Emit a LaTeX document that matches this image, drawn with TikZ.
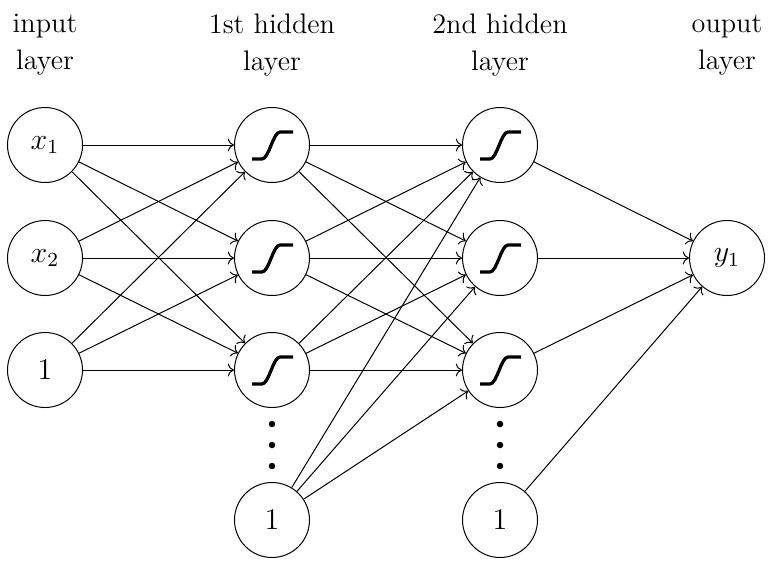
\documentclass[tikz,border=0pt]{standalone}
\usetikzlibrary{arrows.meta}
\tikzset{
  neuron/.style={draw,circle,minimum size=30pt,inner sep=0pt,font=\fontsize{12}{14}\selectfont},
  layertitle/.style={align=center,font=\fontsize{11.3}{14.8}\selectfont},
  conn/.style={->},
  blob/.style={circle,fill,inner sep=0pt,minimum size=2.6pt},
  sigmoid/.pic={\draw[line width=1.3pt] (-20,14) -- (-10,14) .. controls (-3,14) and (1,-13) .. (8,-13) -- (21,-13);},
}

\begin{document}
\begin{tikzpicture}[x=0.4pt,y=-0.4pt]
  \useasboundingbox (0,0) rectangle (771,561);
  % Layer titles
  \node[layertitle] (tin) at (45,45) {input\\layer};
  \node[layertitle] (tha) at (272,45) {1st hidden\\layer};
  \node[layertitle] (thb) at (500,45) {2nd hidden\\layer};
  \node[layertitle] (tout) at (727,45) {ouput\\layer};
  % Input layer
  \node[neuron] (i1) at (45,145) {$x_1$};
  \node[neuron] (i2) at (45,258) {$x_2$};
  \node[neuron] (i3) at (45,370) {$1$};
  % 1st hidden layer
  \node[neuron] (a1) at (272,145) {};
  \node[neuron] (a2) at (272,258) {};
  \node[neuron] (a3) at (272,370) {};
  \node[neuron] (a4) at (272,520) {$1$};
  % 2nd hidden layer
  \node[neuron] (b1) at (500,145) {};
  \node[neuron] (b2) at (500,258) {};
  \node[neuron] (b3) at (500,370) {};
  \node[neuron] (b4) at (500,520) {$1$};
  % Output layer
  \node[neuron] (y) at (727,258) {$y_1$};
  % Sigmoids
  \foreach \n in {a1,a2,a3,b1,b2,b3}
    \pic at (\n) {sigmoid};
  % Vertical dots
  \foreach \c/\x in {a/272,b/500}{
    \node[blob] (\c dot1) at (\x,424) {};
    \node[blob] (\c dot2) at (\x,445) {};
    \node[blob] (\c dot3) at (\x,466) {};
  }
  % Connections
  \foreach \i in {1,2,3}
    \foreach \j in {1,2,3}
      \draw[conn] (i\i) -- (a\j);
  \foreach \i in {1,2,3,4}
    \foreach \j in {1,2,3}
      \draw[conn] (a\i) -- (b\j);
  \foreach \i in {1,2,3,4}
    \draw[conn] (b\i) -- (y);
\end{tikzpicture}
\end{document}
